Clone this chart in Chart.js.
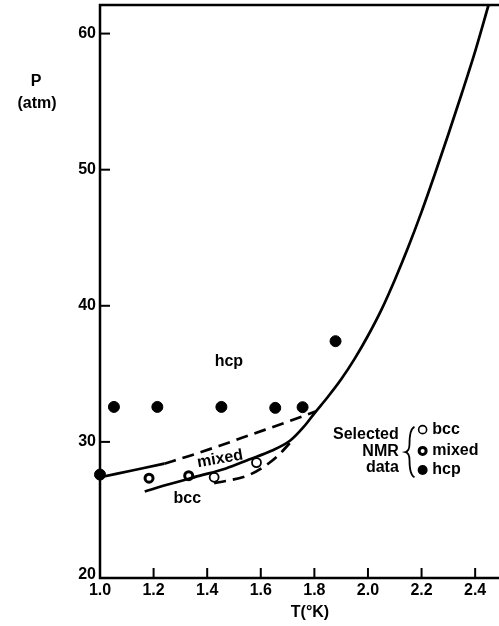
<!DOCTYPE html>
<html>
<head>
<meta charset="utf-8">
<script src="https://cdn.jsdelivr.net/npm/chart.js@4.4.1/dist/chart.umd.min.js"></script>
<style>
  html, body { margin: 0; padding: 0; background: #fff; }
</style>
</head>
<body>
<canvas id="myChart" width="499" height="626"></canvas>
<script>
// Tick values
const xTicks = [1.0, 1.2, 1.4, 1.6, 1.8, 2.0, 2.2, 2.4];
const yTicks = [20, 30, 40, 50, 60];

// Selected NMR data
const hcpT = [1.0, 1.052, 1.214, 1.453, 1.654, 1.756, 1.879];
const hcpP = [27.6, 32.57, 32.57, 32.57, 32.5, 32.55, 37.4];
const mixedT = [1.183, 1.331];
const mixedP = [27.33, 27.52];
const bccT = [1.426, 1.584];
const bccP = [27.4, 28.48];

// Phase boundaries
const mainCurveT = [1.167, 1.25, 1.37, 1.47, 1.556, 1.64, 1.71, 1.76, 1.80, 1.85, 1.90, 1.95, 2.00, 2.05, 2.10, 2.15, 2.20, 2.25, 2.30, 2.35, 2.40, 2.45];
const mainCurveP = [26.35, 26.85, 27.5, 28.05, 28.7, 29.35, 30.1, 31.1, 32.1, 33.3, 34.6, 36.1, 37.8, 39.7, 41.9, 44.3, 46.9, 49.7, 52.6, 55.6, 58.7, 62.1];
const upperSolidT = [1.0, 1.12, 1.24];
const upperSolidP = [27.4, 27.9, 28.4];
const upperDashT = [1.24, 1.33, 1.444, 1.53, 1.617, 1.71, 1.807];
const upperDashP = [28.4, 28.95, 29.7, 30.3, 30.9, 31.55, 32.25];
const lowerDashT = [1.426, 1.556, 1.63, 1.67, 1.71];
const lowerDashP = [26.96, 27.57, 28.43, 29.1, 29.95];

const toXY = (xs, ys) => xs.map((x, i) => ({ x: x, y: ys[i] }));

const FONT = 'bold 16px "Liberation Sans", Arial, sans-serif';

const lineSet = (xs, ys, dash) => ({
  data: toXY(xs, ys),
  showLine: true,
  borderColor: '#000',
  borderWidth: 2.7,
  borderDash: dash,
  pointRadius: 0,
  cubicInterpolationMode: 'monotone',
  clip: false
});

// Frame, inward ticks, labels and legend
const decorations = {
  id: 'decorations',
  afterDraw(chart) {
    const ctx = chart.ctx;
    const xs = chart.scales.x;
    const ys = chart.scales.y;
    const a = chart.chartArea;
    ctx.save();
    ctx.strokeStyle = '#000';
    ctx.fillStyle = '#000';
    ctx.lineWidth = 2.5;
    ctx.beginPath();
    ctx.moveTo(a.right, a.top);
    ctx.lineTo(a.left, a.top);
    ctx.lineTo(a.left, a.bottom);
    ctx.lineTo(a.right, a.bottom);
    ctx.stroke();

    ctx.lineWidth = 2;
    ctx.font = FONT;
    ctx.textAlign = 'right';
    ctx.textBaseline = 'middle';
    yTicks.forEach(v => {
      const py = ys.getPixelForValue(v);
      if (v > 20) {
        ctx.beginPath();
        ctx.moveTo(a.left, py);
        ctx.lineTo(a.left + 10, py);
        ctx.stroke();
      }
      ctx.fillText(String(v), a.left - 4, py - (v === 20 ? 3 : 0));
    });
    ctx.textAlign = 'center';
    ctx.textBaseline = 'top';
    xTicks.forEach(v => {
      const px = xs.getPixelForValue(v);
      if (v > 1.0) {
        ctx.beginPath();
        ctx.moveTo(px, a.bottom);
        ctx.lineTo(px, a.bottom - 10);
        ctx.stroke();
      }
      ctx.fillText(v.toFixed(1), px, a.bottom + 5);
    });

    // axis titles
    ctx.textBaseline = 'middle';
    ctx.fillText('P', 36, 82);
    ctx.fillText('(atm)', 37, 104);
    ctx.fillText('T(°K)', 310, 613);

    // region labels
    ctx.fillText('hcp', xs.getPixelForValue(1.481), ys.getPixelForValue(35.9));
    ctx.fillText('bcc', xs.getPixelForValue(1.326), ys.getPixelForValue(25.8));
    ctx.save();
    ctx.translate(xs.getPixelForValue(1.448), ys.getPixelForValue(28.75));
    ctx.rotate(-0.17);
    ctx.fillText('mixed', 0, 0);
    ctx.restore();

    // legend
    ctx.textAlign = 'right';
    const lx = xs.getPixelForValue(2.115);
    ctx.fillText('Selected', lx, ys.getPixelForValue(30.5));
    ctx.fillText('NMR', lx, ys.getPixelForValue(29.3));
    ctx.fillText('data', lx, ys.getPixelForValue(28.1));

    const bx = xs.getPixelForValue(2.155);
    const bTop = ys.getPixelForValue(31.1);
    const bBot = ys.getPixelForValue(27.4);
    const bMid = (bTop + bBot) / 2;
    ctx.lineWidth = 1.8;
    ctx.beginPath();
    ctx.moveTo(bx + 5, bTop);
    ctx.quadraticCurveTo(bx, bTop + 2, bx, bMid - 8);
    ctx.quadraticCurveTo(bx, bMid - 1, bx - 4, bMid);
    ctx.quadraticCurveTo(bx, bMid + 1, bx, bMid + 8);
    ctx.quadraticCurveTo(bx, bBot - 2, bx + 5, bBot);
    ctx.stroke();

    const sx = xs.getPixelForValue(2.204);
    const rows = [[30.9, 'bcc'], [29.34, 'mixed'], [27.94, 'hcp']];
    ctx.textAlign = 'left';
    rows.forEach((r, i) => {
      const py = ys.getPixelForValue(r[0]);
      ctx.beginPath();
      if (i === 0) {
        ctx.lineWidth = 1.6;
        ctx.fillStyle = '#fff';
        ctx.arc(sx, py, 4, 0, Math.PI * 2);
        ctx.fill();
        ctx.stroke();
      } else if (i === 1) {
        ctx.lineWidth = 3;
        ctx.fillStyle = '#fff';
        ctx.arc(sx, py, 3.5, 0, Math.PI * 2);
        ctx.fill();
        ctx.stroke();
      } else {
        ctx.fillStyle = '#000';
        ctx.arc(sx, py, 5, 0, Math.PI * 2);
        ctx.fill();
      }
      ctx.fillStyle = '#000';
      ctx.fillText(r[1], xs.getPixelForValue(2.24), py);
    });
    ctx.restore();
  }
};

const ctx = document.getElementById('myChart');
const myChart = new Chart(ctx, {
  type: 'scatter',
  data: {
    datasets: [
      lineSet(mainCurveT, mainCurveP, []),
      lineSet(upperSolidT, upperSolidP, []),
      lineSet(upperDashT, upperDashP, [12, 7]),
      lineSet(lowerDashT, lowerDashP, [12, 7]),
      {
        data: toXY(hcpT, hcpP),
        pointRadius: 5.5,
        pointBackgroundColor: '#000',
        pointBorderColor: '#000',
        pointBorderWidth: 1,
        clip: false
      },
      {
        data: toXY(mixedT, mixedP),
        pointRadius: 4,
        pointBackgroundColor: '#fff',
        pointBorderColor: '#000',
        pointBorderWidth: 3,
        clip: false
      },
      {
        data: toXY(bccT, bccP),
        pointRadius: 4.5,
        pointBackgroundColor: '#fff',
        pointBorderColor: '#000',
        pointBorderWidth: 1.8,
        clip: false
      }
    ]
  },
  options: {
    responsive: false,
    animation: false,
    layout: { autoPadding: false, padding: { left: 100, right: 0, top: 5, bottom: 48 } },
    plugins: { legend: { display: false }, tooltip: { enabled: false } },
    scales: {
      x: { type: 'linear', min: 1.0, max: 2.489, display: false },
      y: { type: 'linear', min: 20, max: 62.1, display: false }
    }
  },
  plugins: [decorations]
});
</script>
</body>
</html>
